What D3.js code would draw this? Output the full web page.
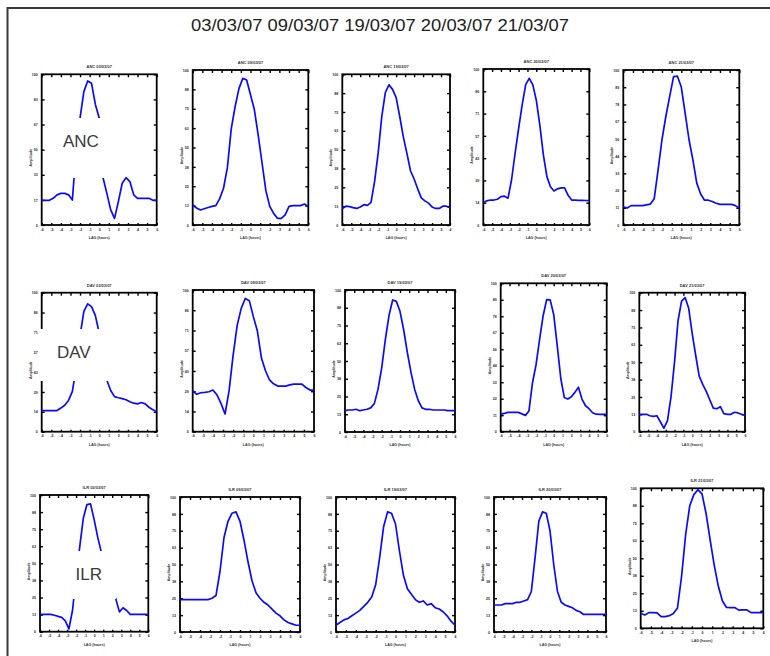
<!DOCTYPE html>
<html>
<head>
<meta charset="utf-8">
<script src="https://cdn.jsdelivr.net/npm/d3@7/dist/d3.min.js"></script>
<style>
  html, body { margin: 0; padding: 0; background: #fff; }
  svg { display: block; }
</style>
</head>
<body>
<svg id="chart" width="770" height="656"></svg>
<script>
// ---------------- DATA ----------------
const dates = ["03/03/07", "09/03/07", "19/03/07", "20/03/07", "21/03/07"];
const stations = ["ANC", "DAV", "ILR"];
const xTickLabels = ["-6", "-5", "-4", "-3", "-2", "-1", "0", "1", "2", "3", "4", "5", "6"];

// normalised amplitude, 31 samples per panel (lag index 0..30)
const ancSeries = [
  [.164,.164,.164,.177,.20,.21,.21,.20,.166,.50,.71,.885,.956,.94,.80,.71,.314,.21,.10,.044,.155,.277,.314,.288,.20,.177,.177,.177,.177,.164,.164],
  [.129,.11,.097,.105,.113,.12,.125,.17,.237,.37,.62,.763,.88,.946,.935,.84,.745,.58,.40,.22,.12,.075,.043,.043,.065,.12,.125,.125,.125,.135,.118],
  [.11,.125,.122,.115,.11,.12,.135,.13,.15,.29,.48,.72,.88,.93,.90,.845,.72,.585,.475,.36,.305,.24,.18,.16,.145,.12,.11,.11,.125,.125,.115],
  [.143,.155,.16,.16,.165,.182,.185,.172,.29,.46,.62,.77,.90,.94,.90,.80,.64,.45,.31,.245,.218,.232,.238,.238,.19,.16,.16,.158,.158,.157,.156],
  [.118,.11,.125,.125,.125,.125,.13,.135,.17,.355,.55,.70,.83,.957,.96,.89,.72,.55,.42,.27,.20,.16,.16,.152,.14,.133,.133,.133,.133,.125,.108]
];
const davSeries = [
  [.151,.151,.151,.151,.152,.17,.19,.225,.29,.46,.69,.865,.92,.90,.835,.71,.53,.37,.296,.252,.244,.238,.23,.215,.205,.20,.21,.20,.176,.158,.144],
  [.289,.264,.275,.278,.282,.294,.26,.20,.125,.29,.54,.75,.87,.94,.925,.812,.71,.52,.43,.365,.338,.322,.322,.322,.33,.336,.336,.336,.312,.294,.294],
  [.15,.155,.155,.16,.15,.155,.16,.17,.20,.30,.45,.65,.82,.93,.92,.85,.72,.56,.42,.30,.22,.17,.16,.16,.155,.155,.155,.155,.15,.15,.15],
  [.117,.123,.13,.13,.13,.13,.12,.11,.14,.33,.45,.62,.78,.89,.888,.79,.58,.36,.23,.22,.235,.265,.30,.22,.175,.155,.128,.118,.117,.117,.117],
  [.125,.125,.125,.115,.11,.115,.07,.025,.08,.25,.50,.80,.94,.965,.89,.71,.55,.40,.34,.29,.23,.17,.165,.18,.13,.125,.125,.14,.135,.125,.12]
];
const ilrSeries = [
  [.127,.127,.127,.127,.12,.112,.105,.08,.02,.155,.40,.62,.83,.93,.935,.82,.69,.58,.48,.39,.30,.24,.145,.175,.155,.127,.127,.127,.127,.127,.127],
  [.24,.24,.24,.24,.24,.24,.24,.24,.25,.27,.45,.70,.82,.88,.89,.82,.68,.52,.38,.29,.25,.22,.20,.17,.14,.12,.09,.07,.06,.05,.05],
  [.05,.07,.09,.10,.12,.14,.16,.19,.22,.26,.35,.55,.78,.89,.88,.80,.60,.42,.32,.28,.24,.22,.23,.20,.21,.18,.17,.15,.12,.08,.05],
  [.20,.20,.20,.21,.21,.21,.22,.22,.23,.24,.30,.55,.82,.89,.88,.75,.50,.30,.22,.20,.19,.18,.16,.15,.13,.13,.13,.13,.13,.13,.13],
  [.107,.095,.112,.112,.11,.083,.083,.09,.105,.145,.37,.67,.875,.955,.99,.96,.82,.63,.45,.30,.195,.149,.148,.148,.13,.131,.131,.112,.112,.112,.112]
];
// number of y-tick intervals per panel
const yTickIntervals = [
  [6, 8, 8, 7, 9],
  [7, 7, 8, 9, 8],
  [8, 8, 8, 8, 8]
];

// ---------------- LAYOUT ----------------
const seriesByRow = [ancSeries, davSeries, ilrSeries];
// frame rectangles [x0, y0, x1, y1]
const frames = [
  [[41.7,74.3,156.7,225],[192.7,70,308.3,225],[342.3,74.3,450,225],[483.3,69,589.3,225],[623.3,70,739.3,225]],
  [[41.7,292.7,156.7,431.7],[192.7,290,314,431.7],[345,290,455,432],[500.7,283.3,606.7,431.7],[639.3,292.7,745,431.7]],
  [[40,495,148.3,631.7],[180,497,300,632],[336,497,455,632],[494,497,606,632],[640.7,488.3,763.3,628.3]]
];
// white label boxes [x0, y0, x1, y1] and text anchor
const labelBoxes = [
  { box: [58, 118, 106, 178], tx: 63, ty: 147 },
  { box: [38.5, 329, 108, 381], tx: 57, ty: 358 },
  { box: [73, 551, 116, 599], tx: 75.5, ty: 580 }
];

const svg = d3.select("#chart");

// outer border
svg.append("path")
  .attr("d", "M7.5,656 L7.5,8 L770,8")
  .attr("fill", "none").attr("stroke", "#3a3a3a").attr("stroke-width", 2);

// main title
svg.append("text")
  .attr("x", 191).attr("y", 31)
  .attr("textLength", 378).attr("lengthAdjust", "spacingAndGlyphs")
  .attr("font-family", "'Liberation Sans Narrow', 'Liberation Sans', Arial, sans-serif")
  .attr("font-size", 17).attr("fill", "#222")
  .text(dates.join(" "));

const tinyFont = "'Liberation Sans', Arial, sans-serif";

seriesByRow.forEach((rowSeries, r) => {
  rowSeries.forEach((vals, c) => {
    const [x0, y0, x1, y1] = frames[r][c];
    const g = svg.append("g");
    const x = d3.scaleLinear().domain([0, vals.length - 1]).range([x0, x1]);
    const y = d3.scaleLinear().domain([0, 1]).range([y1, y0]);
    const nY = yTickIntervals[r][c];
    const yTicks = d3.range(nY + 1).map(k => k / nY);
    const xTicks = xTickLabels.map((_, k) => k * (vals.length - 1) / (xTickLabels.length - 1));

    const styleAxis = (sel, showLabels) => {
      sel.select(".domain").remove();
      sel.selectAll(".tick line").attr("stroke", "#000").attr("stroke-width", 1.4);
      sel.selectAll(".tick text")
        .attr("font-size", 3.6).attr("font-family", tinyFont)
        .attr("font-weight", "bold").attr("fill", "#2b2b2b")
        .style("display", showLabels ? null : "none");
    };

    g.append("g").attr("transform", `translate(${x0},0)`)
      .call(d3.axisLeft(y).tickValues(yTicks).tickSize(-3).tickPadding(4)
        .tickFormat(v => d3.format(".0f")(v * 100)))
      .call(s => styleAxis(s, true));
    g.append("g").attr("transform", `translate(${x1},0)`)
      .call(d3.axisRight(y).tickValues(yTicks).tickSize(-3))
      .call(s => styleAxis(s, false));
    g.append("g").attr("transform", `translate(0,${y0})`)
      .call(d3.axisTop(x).tickValues(xTicks).tickSize(-3))
      .call(s => styleAxis(s, false));
    g.append("g").attr("transform", `translate(0,${y1})`)
      .call(d3.axisBottom(x).tickValues(xTicks).tickSize(-2).tickPadding(3)
        .tickFormat((v, k) => xTickLabels[k]))
      .call(s => styleAxis(s, true));

    // frame
    g.append("rect")
      .attr("x", x0).attr("y", y0).attr("width", x1 - x0).attr("height", y1 - y0)
      .attr("fill", "none").attr("stroke", "#000").attr("stroke-width", 1.8);

    // panel title
    g.append("text")
      .attr("x", (x0 + x1) / 2).attr("y", y0 - 6)
      .attr("text-anchor", "middle")
      .attr("font-size", 4).attr("font-weight", "bold").attr("font-family", tinyFont)
      .attr("fill", "#333")
      .text(stations[r] + " " + dates[c]);

    // axis labels
    g.append("text")
      .attr("transform", `translate(${x0 - 10},${(y0 + y1) / 2 + 8}) rotate(-90)`)
      .attr("text-anchor", "middle")
      .attr("font-size", 3.6).attr("font-weight", "bold").attr("font-family", tinyFont)
      .attr("fill", "#333")
      .text("Amplitude");
    g.append("text")
      .attr("x", (x0 + x1) / 2).attr("y", y1 + 14)
      .attr("text-anchor", "middle")
      .attr("font-size", 3.6).attr("font-weight", "bold").attr("font-family", tinyFont)
      .attr("fill", "#333")
      .text("LAG (hours)");

    // series line
    g.append("path")
      .datum(vals)
      .attr("fill", "none")
      .attr("stroke", "#0a0aff")
      .attr("stroke-width", 1.7)
      .attr("stroke-linejoin", "round")
      .attr("d", d3.line().x((d, i) => x(i)).y(d => y(d)));
  });

  // station label with white box
  const lb = labelBoxes[r];
  svg.append("rect")
    .attr("x", lb.box[0]).attr("y", lb.box[1])
    .attr("width", lb.box[2] - lb.box[0]).attr("height", lb.box[3] - lb.box[1])
    .attr("fill", "#fff");
  svg.append("text")
    .attr("x", lb.tx).attr("y", lb.ty)
    .attr("font-family", "'Liberation Sans', Arial, sans-serif")
    .attr("font-size", 17).attr("fill", "#3a3a3a")
    .text(stations[r]);
});
</script>
</body>
</html>
